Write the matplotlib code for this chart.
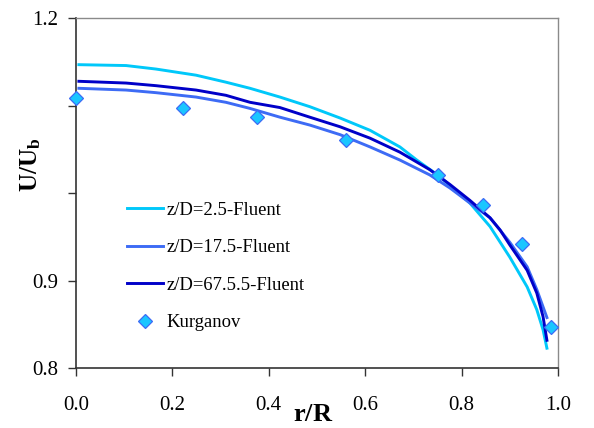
import matplotlib
matplotlib.use("Agg")
import matplotlib.pyplot as plt

plt.rcParams['font.family'] = ['Liberation Serif', 'DejaVu Serif']
plt.rcParams['mathtext.fontset'] = 'custom'
plt.rcParams['mathtext.rm'] = 'Liberation Serif'
plt.rcParams['mathtext.bf'] = 'Liberation Serif:bold'
plt.rcParams['mathtext.it'] = 'Liberation Serif:italic'

# Fluent profiles at three axial stations
r_25 = [0.006, 0.104, 0.166, 0.249, 0.311, 0.361, 0.423, 0.485, 0.548, 0.610,
        0.672, 0.707, 0.755, 0.817, 0.859, 0.900, 0.936, 0.956, 0.969, 0.977]
u_25 = [1.147, 1.146, 1.142, 1.135, 1.127, 1.120, 1.110, 1.099, 1.086, 1.072,
        1.053, 1.038, 1.019, 0.989, 0.962, 0.927, 0.893, 0.867, 0.844, 0.823]

r_175 = [0.006, 0.104, 0.166, 0.249, 0.311, 0.361, 0.423, 0.485, 0.548, 0.610,
         0.672, 0.734, 0.776, 0.817, 0.859, 0.900, 0.936, 0.956, 0.977]
u_175 = [1.120, 1.118, 1.115, 1.110, 1.104, 1.097, 1.087, 1.078, 1.067, 1.053,
         1.038, 1.021, 1.006, 0.989, 0.972, 0.944, 0.916, 0.890, 0.858]

r_675 = [0.006, 0.104, 0.166, 0.249, 0.311, 0.361, 0.423, 0.485, 0.548, 0.610,
         0.672, 0.734, 0.776, 0.817, 0.859, 0.880, 0.900, 0.936, 0.956, 0.969,
         0.977]
u_675 = [1.128, 1.126, 1.123, 1.118, 1.112, 1.104, 1.098, 1.087, 1.076, 1.063,
         1.047, 1.027, 1.010, 0.992, 0.972, 0.958, 0.941, 0.912, 0.886, 0.859,
         0.832]

# Kurganov measurements
r_exp = [0.0, 0.221, 0.375, 0.560, 0.751, 0.844, 0.925, 0.985]
u_exp = [1.109, 1.098, 1.087, 1.061, 1.021, 0.987, 0.942, 0.847]

labels = ['z/D=2.5-Fluent', 'z/D=17.5-Fluent', 'z/D=67.5.5-Fluent', 'Kurganov']
x_ticks = [0.0, 0.2, 0.4, 0.6, 0.8, 1.0]
x_tick_labels = ['0.0', '0.2', '0.4', '0.6', '0.8', '1.0']
y_ticks = [0.8, 0.9, 1.0, 1.1, 1.2]
y_tick_labels = ['0.8', '0.9', '', '', '1.2']

fig = plt.figure(figsize=(5.94, 4.28), dpi=100)
ax = fig.add_axes([76 / 594, 1 - 368.3 / 428, 482 / 594, 350 / 428])

ax.plot(r_25, u_25, color='#00C8FA', lw=2.1, label=labels[0])
ax.plot(r_175, u_175, color='#3D6BF5', lw=2.1, label=labels[1])
ax.plot(r_675, u_675, color='#0000C8', lw=2.1, label=labels[2])
ax.plot(r_exp, u_exp, ls='none', marker='D', ms=7, mfc='#1AC6FF',
        mec='#3D6BF5', mew=0.9, label=labels[3], clip_on=False, zorder=5)

ax.set_xlim(0.0, 1.0)
ax.set_ylim(0.8, 1.2)
ax.set_xticks(x_ticks)
ax.set_xticklabels(x_tick_labels)
ax.set_yticks(y_ticks)
ax.set_yticklabels(y_tick_labels)
ax.tick_params(direction='out', length=6, width=1.0, labelsize=15,
               color='#333333')
ax.tick_params(axis='x', pad=14)
ax.tick_params(axis='y', pad=7)

for side in ('left', 'bottom'):
    ax.spines[side].set_color('#333333')
    ax.spines[side].set_linewidth(1.2)
for side in ('top', 'right'):
    ax.spines[side].set_color('#8a8a8a')
    ax.spines[side].set_linewidth(1.0)

ax.set_xlabel(r'$\mathbf{r/R}$', fontsize=19)
ax.xaxis.set_label_coords(0.492, -0.102)
ax.set_ylabel(r'$\mathbf{U/U_b}$', fontsize=18)
ax.yaxis.set_label_coords(-0.068, 0.58)

ax.legend(loc='upper left', bbox_to_anchor=(0.106, 0.476), frameon=False,
          fontsize=13.4, handlelength=1.94, handletextpad=0.2,
          labelspacing=1.1, borderpad=0, borderaxespad=0)

fig.savefig('out.png', dpi=100)
